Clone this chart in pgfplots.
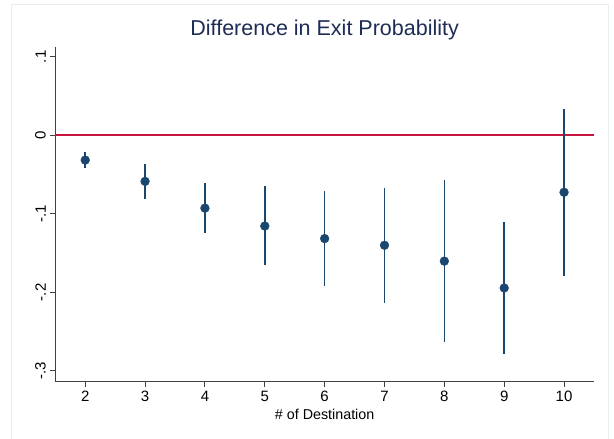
\documentclass[border=0pt]{standalone}
\usepackage{pgfplots}
\usepackage{pgfplotstable}
\pgfplotsset{compat=1.18}
\usepackage{fontspec}
\setmainfont{Liberation Sans}
\definecolor{stnavy}{HTML}{1A476F}
\definecolor{sttitle}{HTML}{1E2D55}
\definecolor{stred}{HTML}{C8153F}
\definecolor{stframe}{HTML}{E6EDEF}
\pgfplotstableread{
x   y       lo      hi
2  -0.0316 -0.0420 -0.0210
3  -0.0587 -0.0806 -0.0367
4  -0.0928 -0.1249 -0.0608
5  -0.1156 -0.1658 -0.0646
6  -0.1316 -0.1924 -0.0709
7  -0.1401 -0.2131 -0.0675
8  -0.1603 -0.2637 -0.0570
9  -0.1945 -0.2785 -0.1101
10 -0.0726 -0.1793  0.0340
}\datatab
\begin{document}
\begin{tikzpicture}
\useasboundingbox (-55.3pt,-57.3pt) rectangle (558.7pt,381.7pt);
\fill[white] (-55.3pt,-57.3pt) rectangle (558.7pt,381.7pt);
\draw[stframe, line width=1pt] (-43.3pt,-57.8pt) -- (-43.3pt,376.7pt) -- (553.4pt,376.7pt) -- (553.4pt,-57.8pt);
\begin{axis}[
  at={(0pt,0pt)}, anchor=south west,
  scale only axis, width=538.7pt, height=334.4pt,
  xmin=1.5, xmax=10.5, ymin=-0.3139, ymax=0.1121,
  axis x line*=bottom, axis y line*=left,
  axis line style={color=black!75, line width=0.9pt, -},
  xtick={2,...,10}, ytick={-0.3,-0.2,-0.1,0,0.1},
  yticklabels={-.3,-.2,-.1,0,.1},
  tick align=outside, major tick length=5pt,
  tick style={color=black!75, line width=0.9pt},
  ticklabel style={font=\fontsize{15}{18}\selectfont},
  yticklabel style={rotate=90, anchor=south},
  /pgf/number format/assume math mode=true,
  xticklabel style={yshift=-1pt},
  yticklabel shift=1pt,
  title={Difference in Exit Probability},
  title style={font=\fontsize{21.5}{25}\selectfont, color=sttitle, anchor=base, at={(axis description cs:0.5,1)}, yshift=5.6pt},
  xlabel={\# of Destination},
  xlabel style={font=\fontsize{14.3}{17}\selectfont, anchor=base, at={(axis description cs:0.5,0)}, yshift=-38.3pt},
  clip=false,
]
\addplot[stred, line width=1.6pt, forget plot] coordinates {(1.5,0) (10.5,0)};
\addplot[stnavy, line width=1.5pt, only marks, mark=none,
  error bars/.cd, y dir=both, y explicit, error mark=none,
  error bar style={stnavy, line width=1.5pt}]
  table[x=x, y=y, y error plus expr=\thisrow{hi}-\thisrow{y}, y error minus expr=\thisrow{y}-\thisrow{lo}] {\datatab};
\addplot[only marks, mark=*, mark size=4.4pt, mark options={fill=stnavy, draw=stnavy}] table[x=x, y=y] {\datatab};
\end{axis}
\end{tikzpicture}
\end{document}
